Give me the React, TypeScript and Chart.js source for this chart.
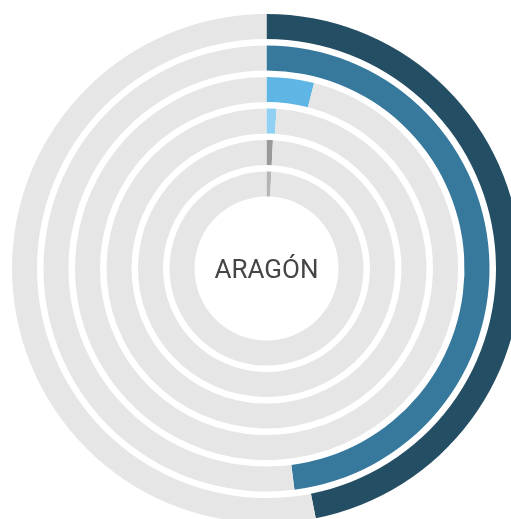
import React, { useEffect, useRef } from "react";
import { Chart, registerables } from "chart.js";

Chart.register(...registerables);

const categories = ["Serie 1", "Serie 2", "Serie 3", "Serie 4", "Serie 5", "Serie 6"];
const values = [46.9, 48.0, 4.0, 1.0, 0.8, 0.8];
const total = 100;
const colors = ["#244e63", "#37799c", "#5fb6e4", "#8fd0f3", "#999999", "#b5b5b5"];
const trackColor = "#e6e6e6";
const centerLabel = "ARAGÓN";

export default function App() {
  const ref = useRef<HTMLCanvasElement | null>(null);

  useEffect(() => {
    if (!ref.current) return;
    const datasets: any[] = [];
    values.forEach((v, i) => {
      datasets.push({
        label: categories[i],
        data: [v, total - v],
        backgroundColor: [colors[i], trackColor],
        borderWidth: 0,
        hoverBorderWidth: 0,
        hoverOffset: 0,
        offset: 0,
        weight: 25,
      });
      if (i < values.length - 1) {
        datasets.push({
          label: "",
          data: [1],
          backgroundColor: ["rgba(0,0,0,0)"],
          borderWidth: 0,
          hoverBorderWidth: 0,
          hoverOffset: 0,
          offset: 0,
          weight: 6.5,
        });
      }
    });

    const centerText = {
      id: "centerText",
      afterDraw(chart: any) {
        const arc = chart.getDatasetMeta(0).data[0];
        if (!arc) return;
        const ctx = chart.ctx;
        ctx.save();
        ctx.font = "400 26px Roboto";
        ctx.fillStyle = "#454545";
        ctx.textAlign = "center";
        ctx.textBaseline = "alphabetic";
        ctx.fillText(centerLabel, arc.x, arc.y + 9);
        ctx.restore();
      },
    };

    const chart = new Chart(ref.current, {
      type: "doughnut",
      data: { labels: ["valor", "resto"], datasets },
      options: {
        responsive: false,
        animation: false,
        cutout: 72,
        layout: { padding: 0 },
        events: [],
        plugins: { legend: { display: false }, tooltip: { enabled: false } },
      } as any,
      plugins: [centerText],
    });
    return () => chart.destroy();
  }, []);

  return (
    <div style={{ position: "fixed", inset: 0, overflow: "hidden", background: "#fff" }}>
      <canvas
        ref={ref}
        width={509}
        height={509}
        style={{ position: "absolute", left: 12, top: 14, width: 509, height: 509 }}
      />
    </div>
  );
}
